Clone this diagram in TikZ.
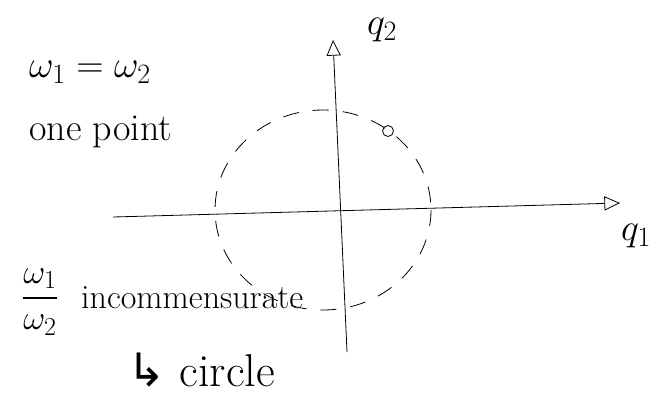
\RequirePackage{fix-cm}
\documentclass[tikz,border=0pt]{standalone}
\usepackage{amsmath, amssymb}
\usepackage{fontspec}
\newfontfamily\symbolfont{DejaVu Sans}
\usetikzlibrary{positioning,arrows.meta}
\DeclareMathSizes{34}{34}{26}{18}
\DeclareMathSizes{38}{38}{28}{20}
\tikzset{
  axisarrow/.style={-{Triangle[open, length=5.5mm, width=5mm]}, thick},
  orbitline/.style={thick, dash pattern=on 16pt off 14pt},
  handtext/.style={font=\fontsize{38}{40}\selectfont, inner sep=1pt},
  smalltext/.style={font=\fontsize{34}{36}\selectfont, inner sep=1pt},
  bigtext/.style={font=\fontsize{46}{48}\selectfont, inner sep=1pt}
}

\begin{document}
\begin{tikzpicture}[x=1pt, y=-1pt]
  \useasboundingbox (0,0) rectangle (660,400);
  % axes
  \coordinate (q2base) at (347,352);
  \coordinate (q2tip) at (333,40);
  \coordinate (q1base) at (113,217);
  \coordinate (q1tip) at (620,203);
  \draw[axisarrow] (q2base) -- (q2tip);
  \draw[axisarrow] (q1base) -- (q1tip);
  \node[handtext] (q2) at (382,30) {$q_2$};
  \node[handtext] (q1) at (636,236) {$q_1$};
  % orbit
  \draw[orbitline] (323,210) ellipse [x radius=108, y radius=100];
  \node[draw, thick, circle, minimum size=11pt, inner sep=0pt] (pt) at (388,131) {};
  % notes
  \node[handtext, anchor=west] (same) at (28,72) {$\omega_1 = \omega_2$};
  \node[handtext, anchor=west] (one) at (28,132) {one point};
  \node[smalltext] (ratio) at (40,302) {$\dfrac{\omega_1}{\omega_2}$};
  \node[smalltext, anchor=west] (incomm) at (80,298) {incommensurate};
  \node[bigtext, anchor=west] (circ) at (126,370) {{\symbolfont ↳} circle};
\end{tikzpicture}
\end{document}
